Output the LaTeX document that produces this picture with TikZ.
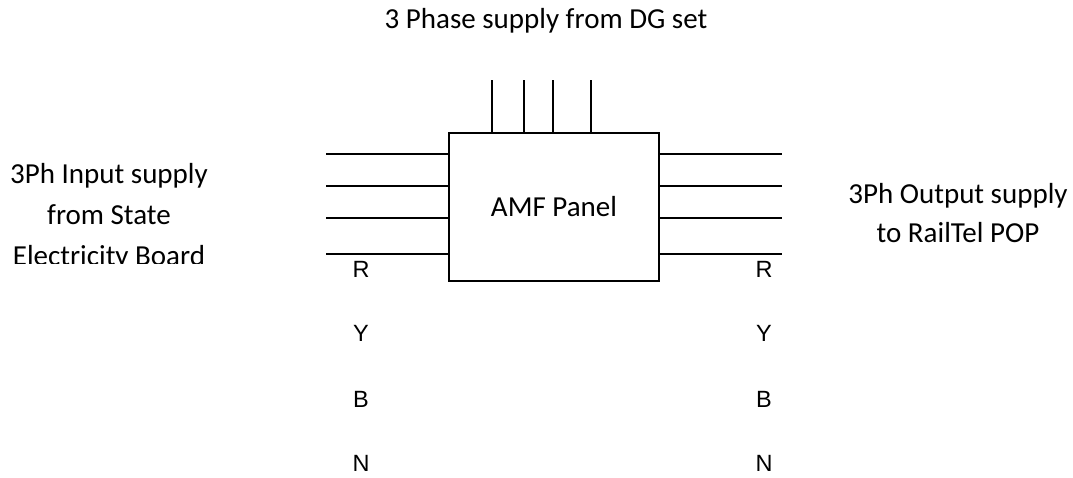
\documentclass[tikz,border=0pt]{standalone}
\usepackage{fontspec}
\setmainfont{Carlito}
\newfontfamily\arialfont{Liberation Sans}
\begin{document}
\begin{tikzpicture}[x=1pt,y=-1pt,
  wire/.style={line width=1.5pt},
  panel/.style={draw,line width=1.8pt,minimum width=210pt,minimum height=148pt,inner sep=0pt,font=\fontsize{29}{35}\selectfont},
  cal/.style={font=\fontsize{29}{39}\selectfont,align=center,inner sep=0pt},
  calwide/.style={font=\fontsize{29}{41}\selectfont,align=center,inner sep=0pt},
  phase/.style={font=\arialfont\fontsize{23.5}{26}\selectfont,inner sep=0pt}]
\useasboundingbox (0,0) rectangle (1073,477);
\node[panel] (amf) at (554,207) {AMF Panel};
% top wires
\foreach \x [count=\i] in {492,524,553,591}{
  \coordinate (t\i) at (\x,80);
  \draw[wire] (t\i) -- (t\i |- amf.north);
}
% left and right wires
\foreach \y [count=\i] in {154,186,218,254}{
  \coordinate (l\i) at (326,\y);
  \coordinate (r\i) at (782,\y);
  \draw[wire] (l\i) -- (l\i -| amf.west);
  \draw[wire] (amf.east |- r\i) -- (r\i);
}
\node[cal] (top) at (546,21) {3 Phase supply from DG set};
\begin{scope}
\clip (0,0) rectangle (300,263);
\node[calwide,anchor=base] (inp) at (109,265) {3Ph Input supply\\from State\\Electricity Board};
\end{scope}
\node[cal,anchor=base] (outp) at (958,242) {3Ph Output supply\\to RailTel POP};
\foreach \t/\y in {R/269,Y/333,B/399,N/463}{
  \node[phase] (L\t) at (361,\y) {\t};
  \node[phase] (R\t) at (764,\y) {\t};
}
\end{tikzpicture}
\end{document}
